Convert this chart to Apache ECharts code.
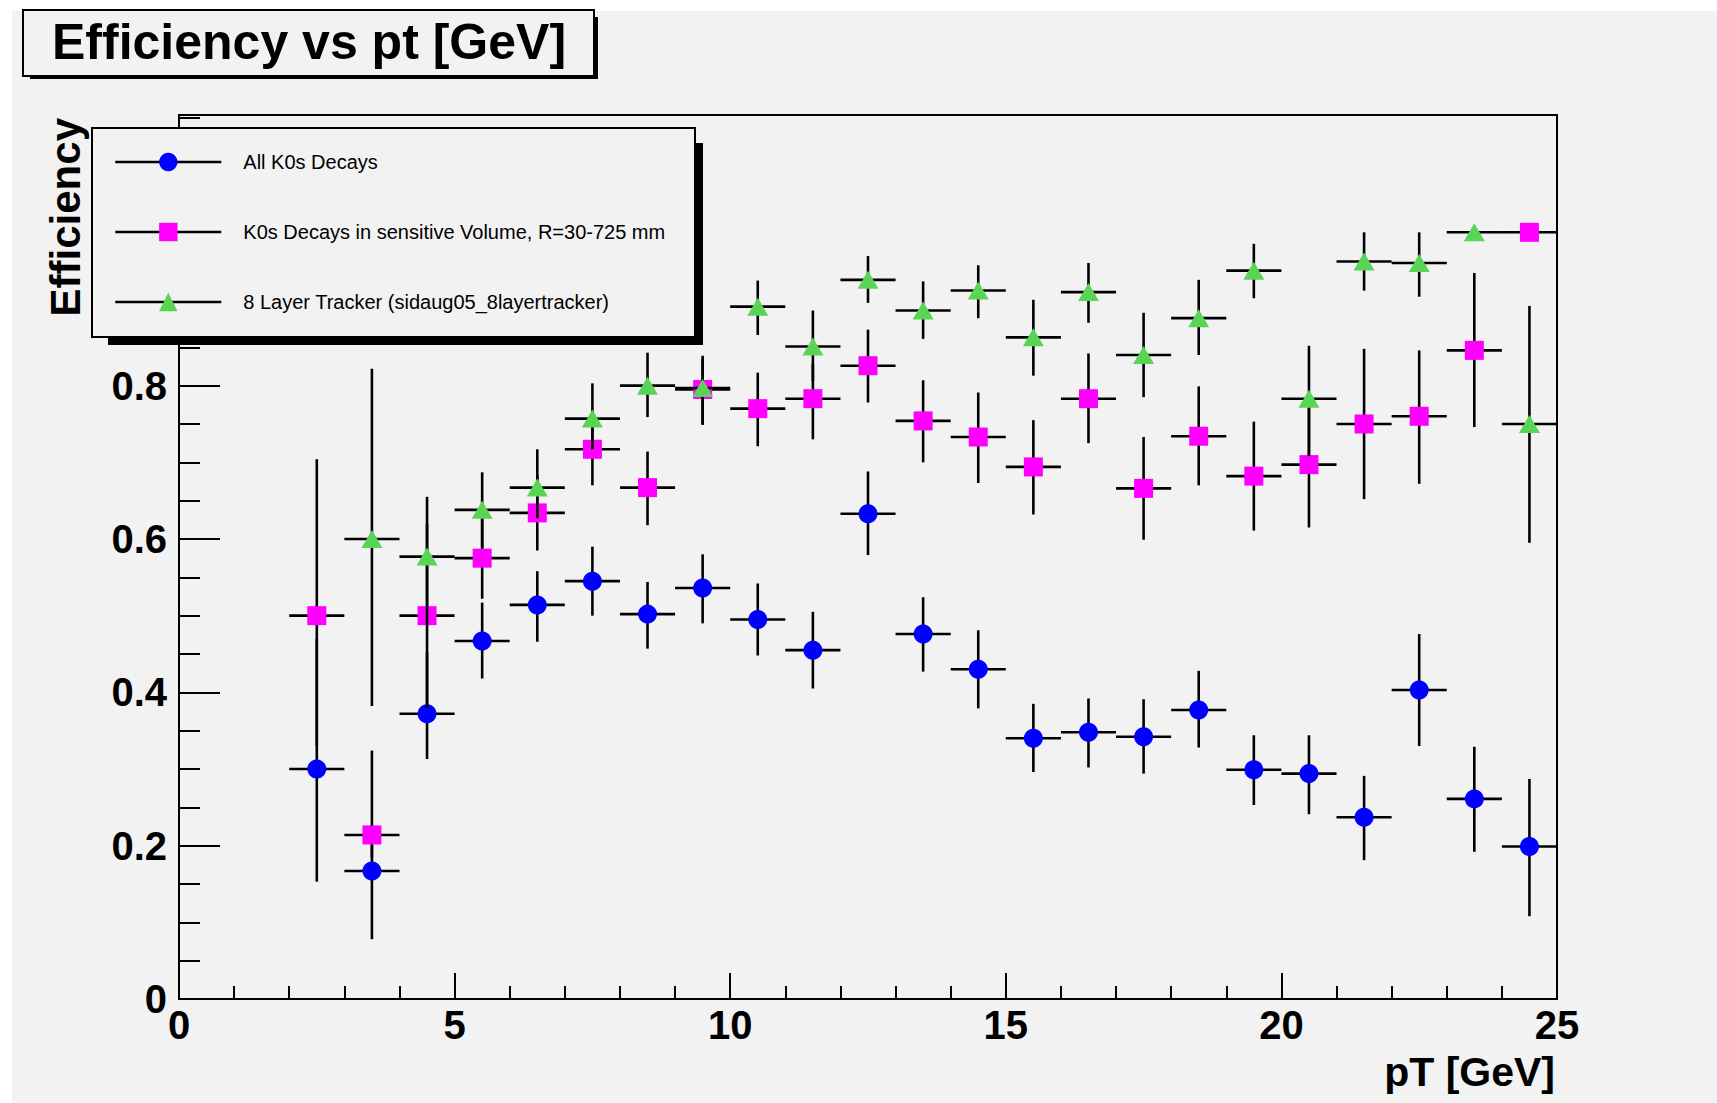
<!DOCTYPE html>
<html>
<head>
<meta charset="utf-8">
<script src="https://cdn.jsdelivr.net/npm/echarts@6/dist/echarts.min.js"></script>
<style>
html,body{margin:0;padding:0;background:#fff;}
#chart{width:1717px;height:1103px;}
</style>
</head>
<body>
<div id="chart"></div>
<script>
// ---------------- data ----------------
const binCenters = [2.5, 3.5, 4.5, 5.5, 6.5, 7.5, 8.5, 9.5, 10.5, 11.5, 12.5, 13.5,
                    14.5, 15.5, 16.5, 17.5, 18.5, 19.5, 20.5, 21.5, 22.5, 23.5, 24.5];
const BIN_HALF_WIDTH = 0.5;

const seriesNames = [
  'All K0s Decays',
  'K0s Decays in sensitive Volume, R=30-725 mm',
  '8 Layer Tracker (sidaug05_8layertracker)'
];

const allEff     = [0.300, 0.167, 0.372, 0.467, 0.514, 0.545, 0.502, 0.536, 0.495, 0.455, 0.633, 0.476,
                    0.430, 0.340, 0.348, 0.342, 0.377, 0.299, 0.294, 0.237, 0.403, 0.261, 0.199];
const allErrLow  = [0.147, 0.089, 0.059, 0.049, 0.048, 0.045, 0.045, 0.046, 0.047, 0.050, 0.054, 0.049,
                    0.051, 0.044, 0.046, 0.048, 0.049, 0.046, 0.053, 0.056, 0.073, 0.069, 0.091];
const allErrHigh = [0.170, 0.060, 0.080, 0.050, 0.044, 0.045, 0.042, 0.044, 0.047, 0.050, 0.055, 0.048,
                    0.051, 0.045, 0.044, 0.049, 0.051, 0.045, 0.050, 0.054, 0.073, 0.068, 0.088];

const volEff     = [0.500, 0.214, 0.500, 0.575, 0.634, 0.717, 0.667, 0.795, 0.770, 0.783, 0.826, 0.754,
                    0.733, 0.694, 0.783, 0.666, 0.734, 0.682, 0.697, 0.750, 0.760, 0.846, 1.000];
const volErrLow  = [0.170, 0.030, 0.120, 0.053, 0.049, 0.047, 0.049, 0.046, 0.049, 0.053, 0.048, 0.054,
                    0.060, 0.062, 0.058, 0.067, 0.064, 0.071, 0.082, 0.098, 0.088, 0.100, 0.000];
const volErrHigh = [0.204, 0.110, 0.120, 0.060, 0.050, 0.040, 0.047, 0.040, 0.047, 0.045, 0.047, 0.053,
                    0.058, 0.061, 0.059, 0.067, 0.065, 0.071, 0.075, 0.098, 0.086, 0.101, 0.000];

const trkEff     = [null,  0.600, 0.577, 0.638, 0.667, 0.757, 0.800, 0.797, 0.903, 0.851, 0.938, 0.898,
                    0.924, 0.863, 0.922, 0.840, 0.888, 0.950, 0.783, 0.962, 0.960, 1.000, 0.750];
const trkErrLow  = [null,  0.218, 0.090, 0.050, 0.040, 0.040, 0.041, 0.048, 0.037, 0.045, 0.030, 0.037,
                    0.036, 0.050, 0.040, 0.055, 0.048, 0.036, 0.075, 0.038, 0.044, 0.000, 0.155];
const trkErrHigh = [null,  0.222, 0.078, 0.049, 0.050, 0.046, 0.043, 0.042, 0.034, 0.047, 0.031, 0.038,
                    0.033, 0.049, 0.038, 0.055, 0.050, 0.035, 0.069, 0.038, 0.040, 0.000, 0.154];

const X_MIN = 0, X_MAX = 25, X_INTERVAL = 5;
const Y_MIN = 0, Y_MAX = 1.153, Y_INTERVAL = 0.2;

// ---------------- styling ----------------
const FONT = "'Liberation Sans', Arial, Helvetica, sans-serif";
const BG = '#f2f2f2';
const BAR_WIDTH = 2.6;

function points(eff, lo, hi) {
  return binCenters.map((x, i) => eff[i] == null ? null : [x, eff[i], lo[i], hi[i]]).filter(Boolean);
}

function barSeries(name, data, z) {
  return {
    type: 'custom', name: name, z: z, silent: true, data: data,
    encode: { x: 0, y: 1 },
    renderItem: function (params, api) {
      const x = api.value(0), y = api.value(1), lo = api.value(2), hi = api.value(3);
      const a = api.coord([x - BIN_HALF_WIDTH, y]);
      const b = api.coord([x + BIN_HALF_WIDTH, y]);
      const t = api.coord([x, y + hi]);
      const d = api.coord([x, y - lo]);
      const st = { stroke: '#000', lineWidth: BAR_WIDTH };
      const children = [{ type: 'line', shape: { x1: a[0], y1: a[1], x2: b[0], y2: b[1] }, style: st }];
      if (hi > 0 || lo > 0) {
        children.push({ type: 'line', shape: { x1: t[0], y1: t[1], x2: d[0], y2: d[1] }, style: st });
      }
      return { type: 'group', children: children };
    }
  };
}

function markerSeries(name, data, symbol, size, color, z) {
  return {
    type: 'line', name: name, z: z, silent: true,
    data: data.map(p => [p[0], p[1]]),
    symbol: symbol, symbolSize: size, showSymbol: true,
    lineStyle: { opacity: 0, width: 0 },
    itemStyle: { color: color, borderWidth: 0 },
    emphasis: { disabled: true }
  };
}

const allPts = points(allEff, allErrLow, allErrHigh);
const volPts = points(volEff, volErrLow, volErrHigh);
const trkPts = points(trkEff, trkErrLow, trkErrHigh);

const chart = echarts.init(document.getElementById('chart'), null, { renderer: 'svg' });

const labelStyle = { fontFamily: FONT, fontWeight: 'bold', fontSize: 40, color: '#000' };

chart.setOption({
  animation: false,
  backgroundColor: 'transparent',
  grid: {
    left: 179, top: 115, right: 160, bottom: 104,
    show: true, borderColor: '#000', borderWidth: 2, backgroundColor: 'transparent'
  },
  xAxis: {
    type: 'value', min: X_MIN, max: X_MAX, interval: X_INTERVAL,
    axisLine: { show: true, onZero: false, lineStyle: { color: '#000', width: 2 } },
    axisTick: { show: true, inside: true, length: 26, lineStyle: { color: '#000', width: 2 } },
    minorTick: { show: true, splitNumber: 5, length: 13, lineStyle: { color: '#000', width: 2 } },
    splitLine: { show: false },
    axisLabel: Object.assign({ margin: 6 }, labelStyle)
  },
  yAxis: {
    type: 'value', min: Y_MIN, max: Y_MAX, interval: Y_INTERVAL,
    axisLine: { show: true, onZero: false, lineStyle: { color: '#000', width: 2 } },
    axisTick: { show: true, inside: true, length: 41, lineStyle: { color: '#000', width: 2 } },
    minorTick: { show: true, splitNumber: 4, length: 21, lineStyle: { color: '#000', width: 2 } },
    splitLine: { show: false },
    axisLabel: Object.assign({
      margin: 12,
      padding: [10, 0, 0, 0],
      formatter: function (v) {
        const k = v / Y_INTERVAL;
        if (Math.abs(k - Math.round(k)) > 1e-6) return '';
        return String(+v.toFixed(1));
      }
    }, labelStyle)
  },
  legend: {
    show: true, orient: 'vertical', left: 114, top: 152, padding: 0,
    itemWidth: 106, itemHeight: 23, itemGap: 50, z: 11, selectedMode: false,
    data: seriesNames,
    textStyle: { fontFamily: FONT, fontSize: 20, color: '#000', padding: [0, 0, 0, 17] },
    lineStyle: { color: '#000', width: BAR_WIDTH, opacity: 1, type: 'solid' },
    itemStyle: { borderWidth: 0 }
  },
  graphic: {
    elements: [
      { type: 'rect', z: -10, silent: true, shape: { x: 12, y: 11, width: 1705, height: 1092 }, style: { fill: BG } },
      // title box
      { type: 'rect', z: 10, silent: true, shape: { x: 30, y: 17, width: 568, height: 62 }, style: { fill: '#000' } },
      { type: 'rect', z: 10, silent: true, shape: { x: 23, y: 10, width: 571, height: 66 }, style: { fill: BG, stroke: '#000', lineWidth: 2 } },
      { type: 'text', z: 10, silent: true, x: 52, y: 42,
        style: { text: 'Efficiency vs pt [GeV]', fontFamily: FONT, fontWeight: 'bold', fontSize: 50, fill: '#000', verticalAlign: 'middle' } },
      // legend box
      { type: 'rect', z: 10, silent: true, shape: { x: 108, y: 143, width: 595, height: 202 }, style: { fill: '#000' } },
      { type: 'rect', z: 10, silent: true, shape: { x: 92, y: 128, width: 603, height: 209 }, style: { fill: BG, stroke: '#000', lineWidth: 2 } },
      // axis titles
      { type: 'text', z: 1, silent: true, x: 65, y: 118, rotation: Math.PI / 2,
        style: { text: 'Efficiency', fontFamily: FONT, fontWeight: 'bold', fontSize: 42, fill: '#000', align: 'right', verticalAlign: 'middle' } },
      { type: 'text', z: 1, silent: true, x: 1555, y: 1072,
        style: { text: 'pT [GeV]', fontFamily: FONT, fontWeight: 'bold', fontSize: 41, fill: '#000', align: 'right', verticalAlign: 'middle' } }
    ]
  },
  series: [
    barSeries('allBars', allPts, 2),
    markerSeries(seriesNames[0], allPts, 'circle', 19, '#0000ff', 3),
    barSeries('volBars', volPts, 4),
    markerSeries(seriesNames[1], volPts, 'rect', 19, '#ff00ff', 5),
    barSeries('trkBars', trkPts, 6),
    markerSeries(seriesNames[2], trkPts, 'triangle', [21, 18], '#59d454', 7)
  ]
});
</script>
</body>
</html>
